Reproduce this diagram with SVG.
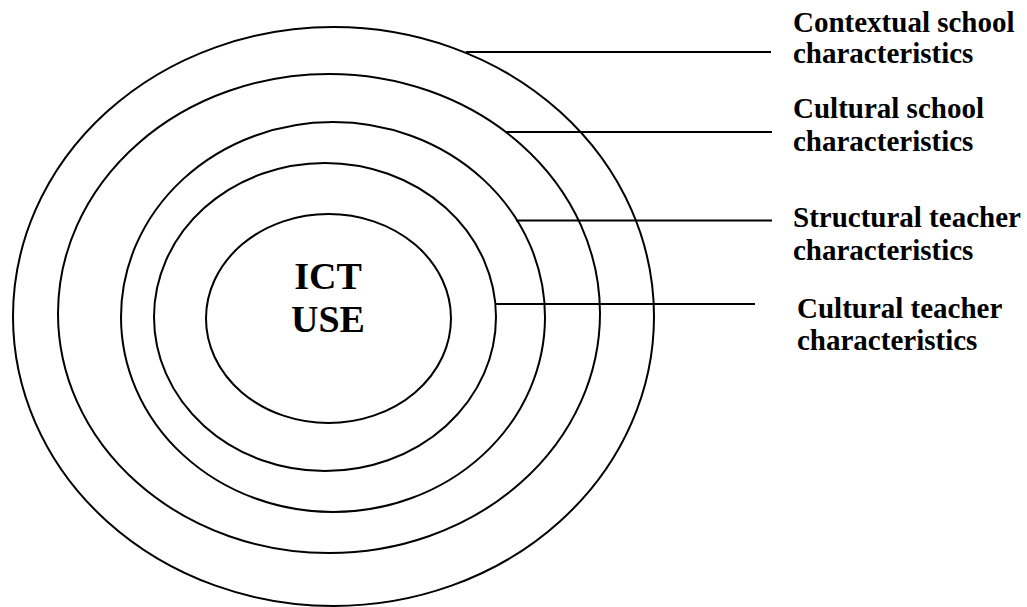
<svg xmlns="http://www.w3.org/2000/svg" width="1027" height="607" viewBox="0 0 1027 607">
<style>
.ring{fill:none;stroke:#000;stroke-width:2}
.conn{stroke:#000;stroke-width:2;fill:none}
.lbl{font-family:"Liberation Serif","Times New Roman",serif;font-weight:bold;font-size:29px;fill:#000}
.core{font-family:"Liberation Serif","Times New Roman",serif;font-weight:bold;font-size:38px;fill:#000}
</style>
<rect width="1027" height="607" fill="#fff"/>
<g id="ring-contextual-school"><ellipse class="ring" cx="333.5" cy="316.5" rx="320.5" ry="289.5"/></g>
<g id="ring-cultural-school"><ellipse class="ring" cx="329" cy="313.5" rx="271" ry="239.5"/></g>
<g id="ring-structural-teacher"><ellipse class="ring" cx="333" cy="317" rx="212" ry="195"/></g>
<g id="ring-cultural-teacher"><ellipse class="ring" cx="325" cy="317" rx="171" ry="154"/></g>
<g id="core-ict-use">
<ellipse class="ring" cx="328.5" cy="318.5" rx="122.5" ry="104.5"/>
<text class="core" x="328" y="289" text-anchor="middle">ICT</text>
<text class="core" x="328" y="332" text-anchor="middle">USE</text>
</g>
<g id="connectors">
<line class="conn" x1="466" y1="52" x2="771" y2="52"/>
<line class="conn" x1="506" y1="132" x2="772" y2="132"/>
<line class="conn" x1="516" y1="220.5" x2="772" y2="220.5"/>
<line class="conn" x1="495" y1="304" x2="755" y2="304"/>
</g>
<g id="label-contextual-school">
<text class="lbl" x="793" y="32">Contextual school</text>
<text class="lbl" x="793" y="63">characteristics</text>
</g>
<g id="label-cultural-school">
<text class="lbl" x="793" y="118">Cultural school</text>
<text class="lbl" x="793" y="151">characteristics</text>
</g>
<g id="label-structural-teacher">
<text class="lbl" x="793" y="227">Structural teacher</text>
<text class="lbl" x="793" y="260">characteristics</text>
</g>
<g id="label-cultural-teacher">
<text class="lbl" x="797" y="318">Cultural teacher</text>
<text class="lbl" x="797" y="350">characteristics</text>
</g>
</svg>
